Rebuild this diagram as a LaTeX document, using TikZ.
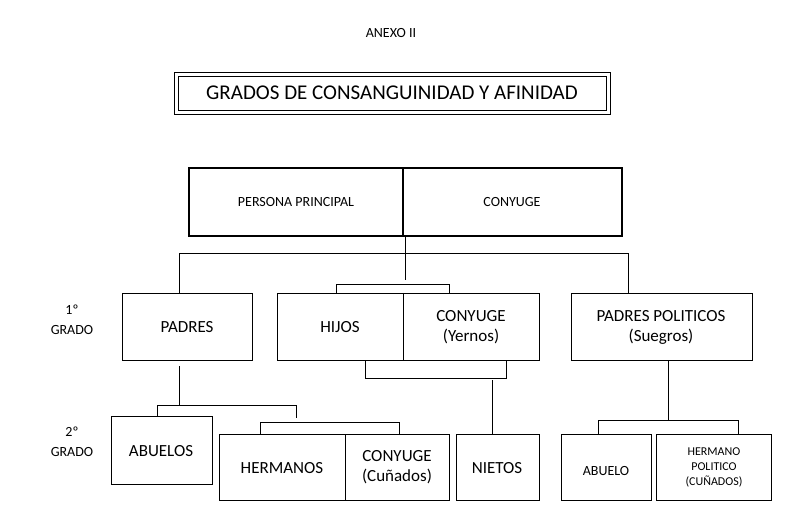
\documentclass[tikz,border=0pt]{standalone}
\usepackage{fontspec}
\setmainfont{Carlito}
\begin{document}
\begin{tikzpicture}[x=1pt,y=-1pt,
 box/.style={draw,line width=0.8pt},
 ln/.style={line width=0.8pt},
 tx/.style={font=\fontsize{17}{20}\selectfont,align=center},
 sm/.style={font=\fontsize{14}{17}\selectfont,align=center}]
\useasboundingbox (0,0) rectangle (798,529);
\node[sm] (anexo) at (391,33) {ANEXO II};
\draw[line width=0.8pt] (174,72) rectangle (610,114);
\draw[line width=0.8pt] (178,76) rectangle (606,110);
\node[font=\fontsize{21}{24}\selectfont] (title) at (392,93) {GRADOS DE CONSANGUINIDAD Y AFINIDAD};
% top
\draw[line width=1.6pt] (189,168) rectangle (622,236);
\draw[line width=1.6pt] (403,168) -- (403,236);
\node[sm] (pp) at (296,202) {PERSONA PRINCIPAL};
\node[sm] (cy) at (512,202) {CONYUGE};
\coordinate (top) at (405,236);
\draw[ln] (top) -- (405,280);
\draw[ln] (179,293) -- (179,253) -- (628,253) -- (628,293);
\draw[ln] (336,293) -- (336,284) -- (449,284) -- (449,293);
% level 1
\node[sm] at (72,310) {1º};
\node[sm] at (72,330) {GRADO};
\draw[box] (122,293) rectangle (252,360);
\node[tx] (padres) at (187,327) {PADRES};
\draw[box] (277,293) rectangle (539,360);
\draw[ln] (403,293) -- (403,360);
\node[tx] (hijos) at (340,327) {HIJOS};
\node[tx] (cyy) at (471,327) {CONYUGE\\(Yernos)};
\draw[box] (571,293) rectangle (752,360);
\node[tx] (pp2) at (661,327) {PADRES POLITICOS\\(Suegros)};
% links level 2
\draw[ln] (365,360) -- (365,378) -- (506,378) -- (506,360);
\draw[ln] (492,380) -- (492,434);
\draw[ln] (179,366) -- (179,405);
\draw[ln] (157,416) -- (157,405) -- (296,405) -- (296,418);
\draw[ln] (260,434) -- (260,422) -- (399,422) -- (399,434);
\draw[ln] (668,360) -- (668,420);
\draw[ln] (598,434) -- (598,420) -- (738,420) -- (738,434);
% level 2
\node[sm] at (72,432) {2º};
\node[sm] at (72,452) {GRADO};
\draw[box] (111,416) rectangle (212,484);
\node[tx] (abuelos) at (161,451) {ABUELOS};
\draw[box] (219,434) rectangle (449,500);
\draw[ln] (345,434) -- (345,500);
\node[tx] (herm) at (282,468) {HERMANOS};
\node[tx] (cun) at (397,467) {CONYUGE\\(Cuñados)};
\draw[box] (456,434) rectangle (539,500);
\node[tx] (nietos) at (497,468) {NIETOS};
\draw[box] (561,434) rectangle (651,500);
\node[sm] (abuelo) at (606,471) {ABUELO};
\draw[box] (656,434) rectangle (771,500);
\node[font=\fontsize{12}{15}\selectfont,align=center] (hp) at (714,467) {HERMANO\\POLITICO\\(CUÑADOS)};
\end{tikzpicture}
\end{document}
